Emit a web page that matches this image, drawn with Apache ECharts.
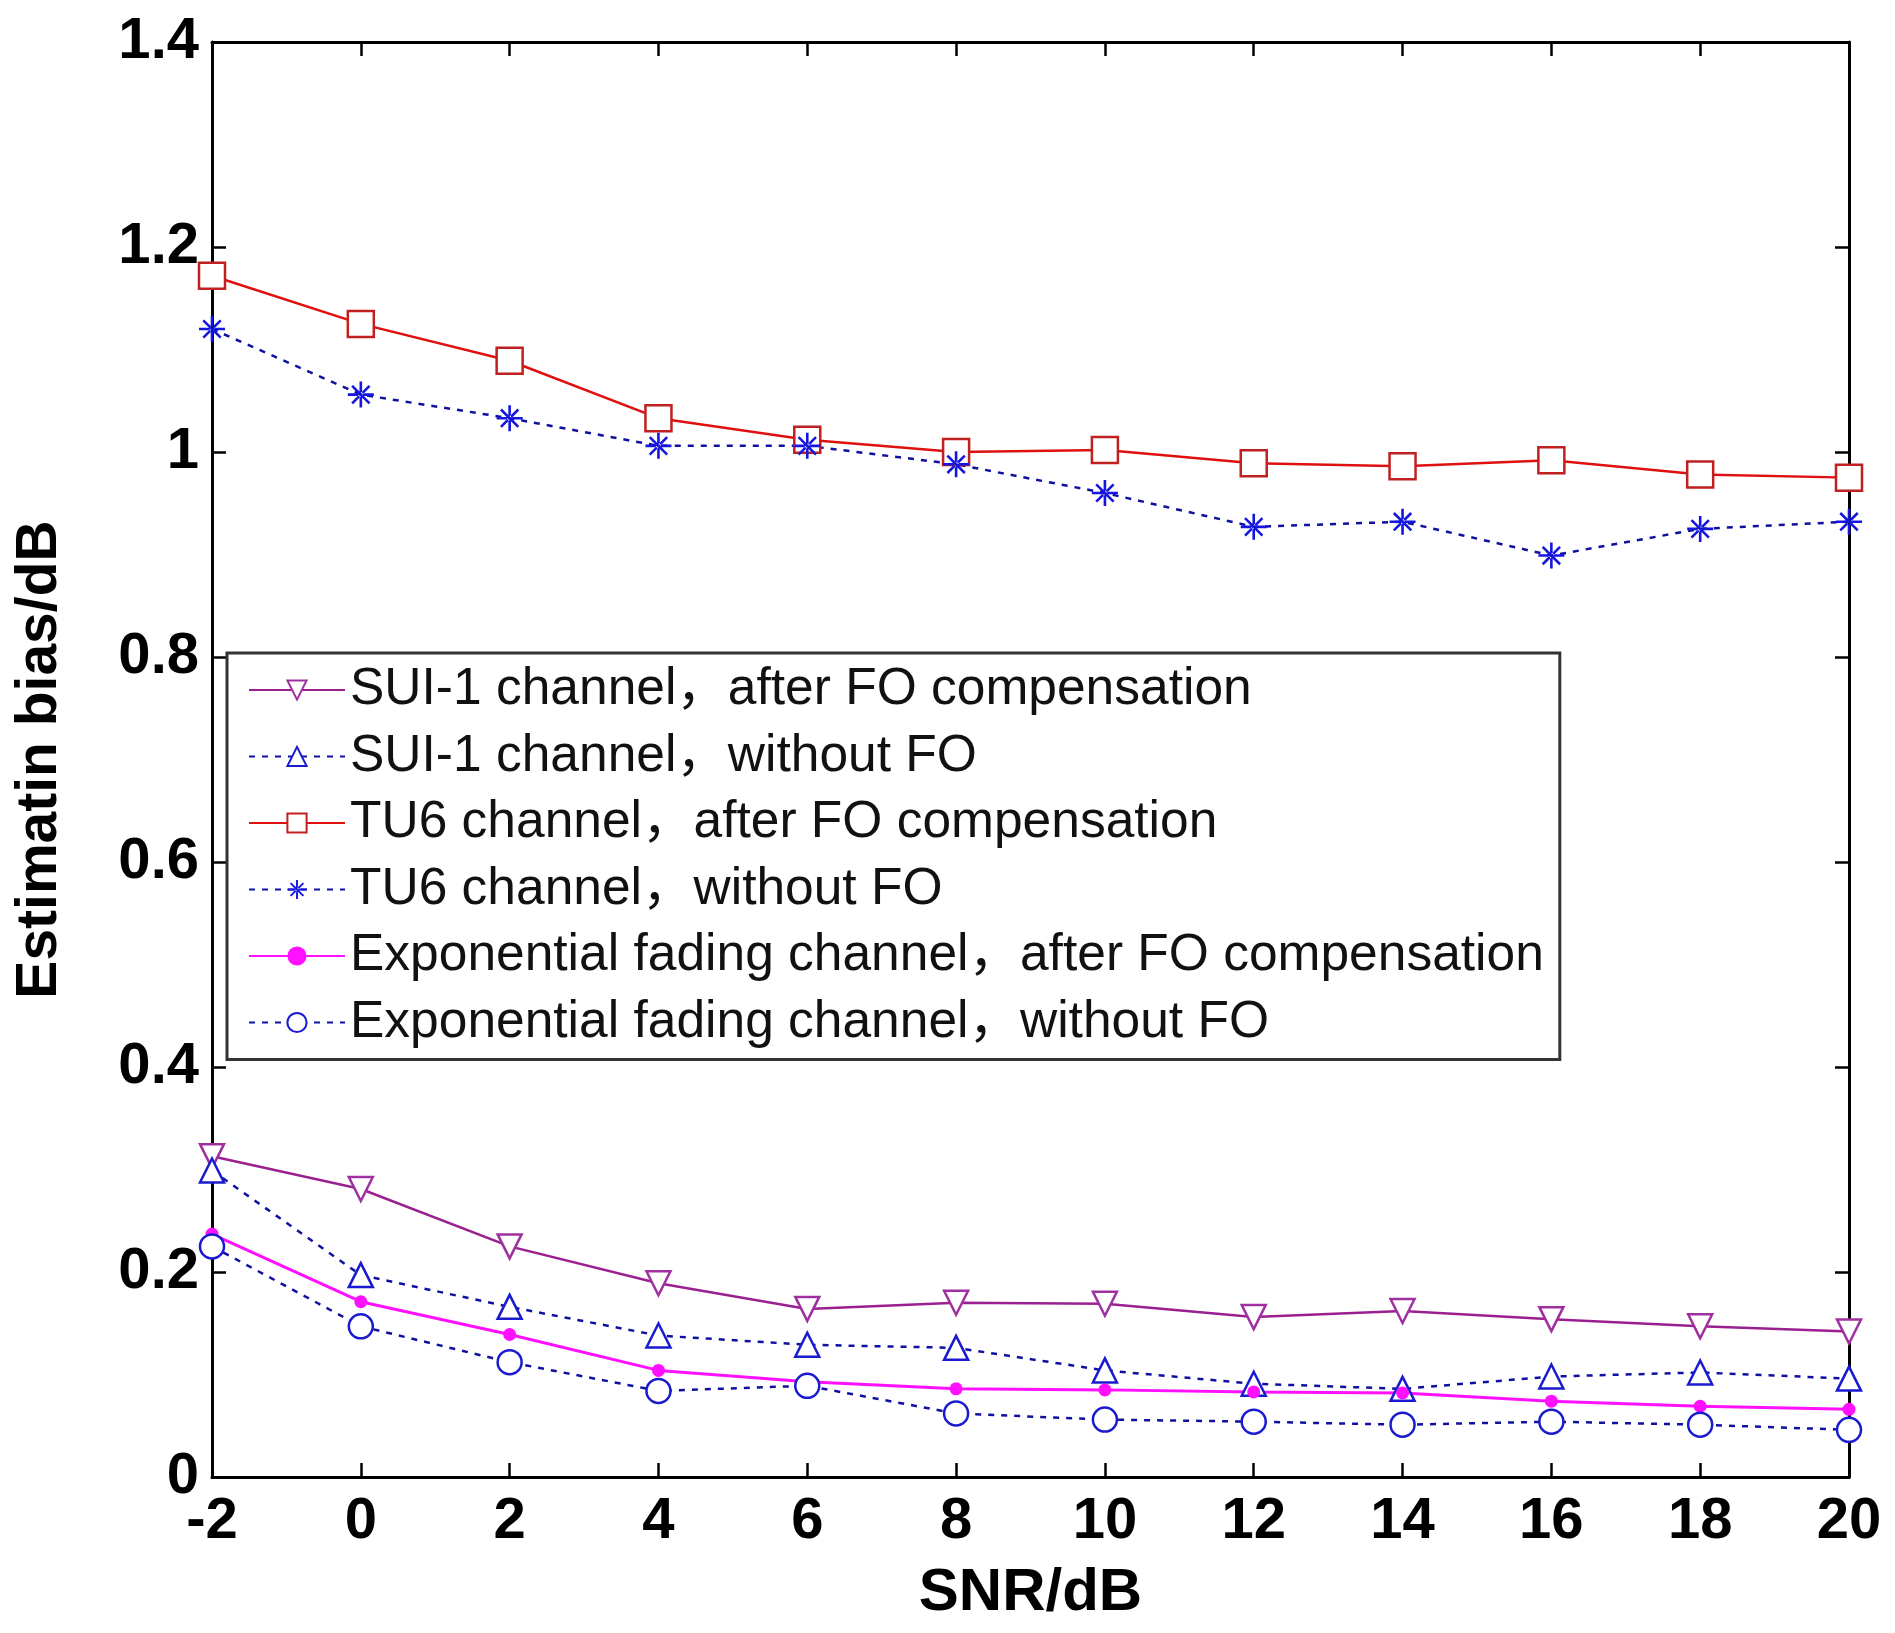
<!DOCTYPE html>
<html>
<head>
<meta charset="utf-8">
<script src="https://cdn.jsdelivr.net/npm/echarts@6/dist/echarts.min.js"></script>
<style>
html,body{margin:0;padding:0;background:#fff;}
#chart{width:1895px;height:1633px;}
</style>
</head>
<body>
<div id="chart"></div>
<script>
const snr = [-2, 0, 2, 4, 6, 8, 10, 12, 14, 16, 18, 20];
const sui1After = [0.313, 0.281, 0.225, 0.189, 0.164, 0.170, 0.169, 0.156, 0.162, 0.154, 0.147, 0.142];
const sui1Without = [0.299, 0.197, 0.166, 0.138, 0.129, 0.126, 0.104, 0.091, 0.086, 0.098, 0.102, 0.096];
const tu6After = [1.172, 1.125, 1.089, 1.033, 1.012, 1.000, 1.002, 0.989, 0.986, 0.992, 0.978, 0.975];
const tu6Without = [1.120, 1.056, 1.033, 1.006, 1.006, 0.988, 0.960, 0.927, 0.932, 0.899, 0.925, 0.932];
const expAfter = [0.237, 0.171, 0.139, 0.104, 0.093, 0.086, 0.085, 0.083, 0.082, 0.074, 0.069, 0.066];
const expWithout = [0.225, 0.147, 0.112, 0.084, 0.089, 0.062, 0.056, 0.054, 0.051, 0.054, 0.051, 0.046];
const seriesNames = [
  'SUI-1 channel，after FO compensation',
  'SUI-1 channel，without FO',
  'TU6 channel，after FO compensation',
  'TU6 channel，without FO',
  'Exponential fading channel，after FO compensation',
  'Exponential fading channel，without FO'
];
const yTicks = [0, 0.2, 0.4, 0.6, 0.8, 1, 1.2, 1.4];
const xTicks = [-2, 0, 2, 4, 6, 8, 10, 12, 14, 16, 18, 20];

const pairs = arr => snr.map((x, i) => [x, arr[i]]);
const starPath = 'path://M9,0h2v20h-2z M0,9h20v2h-20z M2.6,4 l1.4,-1.4 l13.4,13.4 l-1.4,1.4z M17.4,4 l-1.4,-1.4 l-13.4,13.4 l1.4,1.4z';
const dotted = [6, 7];
const font = '"Liberation Sans", Arial, "Noto Sans CJK SC", sans-serif';

const chart = echarts.init(document.getElementById('chart'), null, {renderer: 'canvas'});
const axisCommon = {
  axisLine: {show: true, onZero: false, lineStyle: {color: '#000', width: 3}},
  axisTick: {show: true, inside: true, length: 14, lineStyle: {color: '#000', width: 2.5}},
  splitLine: {show: false}
};
chart.setOption({
  animation: false,
  backgroundColor: '#fff',
  grid: {left: 212, right: 46, top: 42, bottom: 156, containLabel: false, outerBoundsMode: 'none'},
  legend: {
    orient: 'vertical',
    left: 227, top: 653,
    backgroundColor: '#fff',
    borderColor: '#333',
    borderWidth: 3,
    padding: [9, 16, 9, 21],
    itemWidth: 96,
    itemHeight: 24,
    itemGap: 10.5,
    textStyle: {fontFamily: font, fontSize: 51.5, color: '#111', lineHeight: 56},
    data: seriesNames
  },
  xAxis: [
    Object.assign({
      type: 'value', min: -2, max: 20, interval: 2, position: 'bottom',
      name: 'SNR/dB', nameLocation: 'middle', nameGap: 86,
      nameTextStyle: {fontFamily: font, fontSize: 60, fontWeight: 'bold', color: '#000'},
      axisLabel: {fontFamily: font, fontSize: 58, fontWeight: 'bold', color: '#000', margin: 16}
    }, axisCommon),
    Object.assign({
      type: 'value', min: -2, max: 20, interval: 2, position: 'top',
      axisLabel: {show: false}
    }, axisCommon)
  ],
  yAxis: [
    Object.assign({
      type: 'value', min: 0, max: 1.4, interval: 0.2, position: 'left',
      name: 'Estimatin bias/dB', nameLocation: 'middle', nameGap: 143, nameRotate: 90,
      nameTextStyle: {fontFamily: font, fontSize: 57, fontWeight: 'bold', color: '#000'},
      axisLabel: {fontFamily: font, fontSize: 58, fontWeight: 'bold', color: '#000', margin: 13}
    }, axisCommon),
    Object.assign({
      type: 'value', min: 0, max: 1.4, interval: 0.2, position: 'right',
      axisLabel: {show: false}
    }, axisCommon)
  ],
  series: [
    {
      name: seriesNames[0], type: 'line', data: pairs(sui1After),
      symbol: 'triangle', symbolRotate: 180, symbolSize: 24,
      lineStyle: {color: '#9a2090', width: 2.5},
      itemStyle: {color: '#fff', borderColor: '#a030a0', borderWidth: 2.5}
    },
    {
      name: seriesNames[1], type: 'line', data: pairs(sui1Without),
      symbol: 'triangle', symbolSize: 24,
      lineStyle: {color: '#1010a0', width: 2.5, type: dotted},
      itemStyle: {color: '#fff', borderColor: '#1a1ad0', borderWidth: 2.5}
    },
    {
      name: seriesNames[2], type: 'line', data: pairs(tu6After),
      symbol: 'rect', symbolSize: 26,
      lineStyle: {color: '#e01010', width: 2.5},
      itemStyle: {color: '#fff', borderColor: '#c02020', borderWidth: 2.5}
    },
    {
      name: seriesNames[3], type: 'line', data: pairs(tu6Without),
      symbol: starPath, symbolSize: 26,
      lineStyle: {color: '#1010a0', width: 2.5, type: dotted},
      itemStyle: {color: '#1515e0'}
    },
    {
      name: seriesNames[4], type: 'line', data: pairs(expAfter),
      symbol: 'circle', symbolSize: 13,
      lineStyle: {color: '#ff10ff', width: 3},
      itemStyle: {color: '#ff10ff'}
    },
    {
      name: seriesNames[5], type: 'line', data: pairs(expWithout),
      symbol: 'circle', symbolSize: 24,
      lineStyle: {color: '#1010a0', width: 2.5, type: dotted},
      itemStyle: {color: '#fff', borderColor: '#1a1ad0', borderWidth: 2.5}
    }
  ]
});
</script>
</body>
</html>
